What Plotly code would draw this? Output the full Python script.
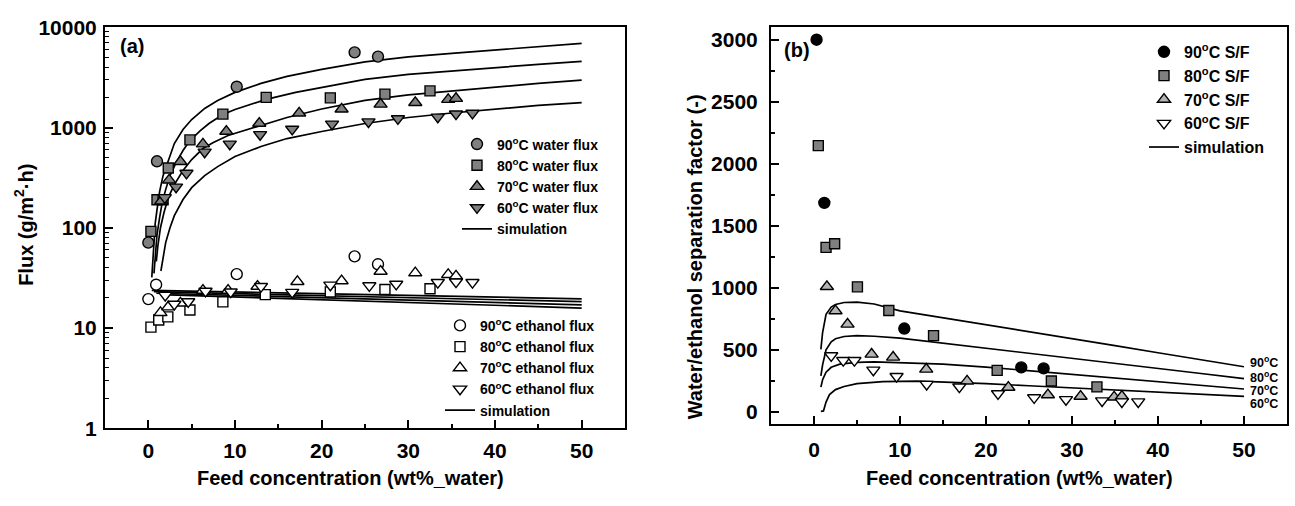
import plotly.graph_objects as go

# ---------------- data: panel (a) measured fluxes (g/m2.h) ----------------
w90_x = [0.0, 1.0, 10.2, 23.8, 26.5]
w90_y = [71, 460, 2550, 5620, 5100]
w80_x = [0.3, 1.0, 1.7, 2.3, 4.8, 8.6, 13.6, 21.0, 27.3, 32.5]
w80_y = [92, 190, 190, 395, 752, 1360, 2000, 1975, 2155, 2317]
w70_x = [1.5, 2.4, 3.7, 6.3, 9.0, 12.8, 17.4, 22.3, 26.8, 30.8, 34.6, 35.5]
w70_y = [185, 299, 457, 684, 916, 1099, 1390, 1527, 1706, 1770, 1901, 1948]
w60_x = [1.9, 3.2, 4.4, 6.5, 9.4, 12.9, 16.6, 21.2, 25.4, 28.8, 33.4, 35.5, 37.4]
w60_y = [200, 255, 350, 569, 684, 851, 964, 1084, 1140, 1227, 1273, 1369, 1390]

e90_x = [0.0, 0.9, 10.2, 23.8, 26.5]
e90_y = [19.4, 27.0, 34.4, 51.8, 43.2]
e80_x = [0.3, 1.2, 2.25, 4.8, 8.6, 13.5, 21.0, 27.3, 32.5]
e80_y = [10.2, 12.0, 12.9, 15.1, 18.2, 21.5, 22.9, 24.2, 24.6]
e70_x = [1.4, 2.3, 3.7, 6.3, 9.2, 12.6, 17.2, 22.3, 26.8, 30.8, 34.6, 35.5]
e70_y = [14.2, 16.2, 17.7, 23.7, 23.7, 26.0, 29.0, 29.5, 36.7, 35.4, 34.1, 32.9]
e60_x = [1.95, 3.0, 4.6, 6.6, 9.5, 13.0, 16.6, 21.0, 25.5, 28.6, 33.4, 35.5, 37.4]
e60_y = [21.2, 17.3, 18.3, 23.3, 22.9, 26.0, 22.7, 26.8, 26.4, 27.4, 28.5, 28.8, 28.5]

# simulated water flux curves
sw90_x = [0.4, 0.6, 0.8, 1.0, 1.3, 1.7, 2.2, 3, 4, 5, 6.5, 8, 10, 13, 16, 20, 25, 30, 35, 40, 45, 50]
sw90_y = [32, 71, 112, 151, 229, 331, 447, 692, 955, 1202, 1549, 1862, 2239, 2754, 3236, 3802, 4519, 5070, 5495, 5957, 6457, 6918]
sw80_x = [0.65, 0.8, 1.0, 1.3, 1.6, 2.0, 2.5, 3.2, 4, 4.8, 6, 7, 8.6, 10, 13.6, 17, 20, 25, 30, 35, 40, 45, 50]
sw80_y = [35, 56, 85, 126, 178, 240, 331, 447, 589, 741, 933, 1096, 1349, 1514, 1905, 2239, 2512, 3020, 3388, 3673, 3981, 4266, 4571]
sw70_x = [0.92, 1.1, 1.4, 1.8, 2.3, 3, 4, 5, 6.3, 7.5, 9.2, 11, 13, 16, 20, 25, 30, 35, 40, 45, 50]
sw70_y = [46, 66, 100, 141, 200, 269, 372, 479, 617, 708, 832, 933, 1047, 1259, 1531, 1862, 2113, 2317, 2541, 2754, 2972]
sw60_x = [1.45, 1.7, 2.0, 2.5, 3, 4, 5, 6.5, 8, 10, 13, 16, 20, 25, 30, 35, 40, 45, 50]
sw60_y = [37, 52, 71, 100, 132, 191, 251, 331, 407, 513, 646, 776, 912, 1096, 1259, 1396, 1531, 1660, 1770]

# simulated ethanol flux curves
se90_x = [0.4, 25, 50]
se90_y = [23.7, 21.5, 19.5]
se80_x = [0.65, 25, 50]
se80_y = [23.0, 20.6, 18.3]
se70_x = [0.92, 25, 50]
se70_y = [22.2, 19.4, 17.0]
se60_x = [1.45, 25, 50]
se60_y = [21.5, 18.4, 15.8]

# ---------------- data: panel (b) separation factor ----------------
s90_x = [0.3, 1.2, 10.5, 24.1, 26.7]
s90_y = [3000, 1685, 672, 359, 351]
s80_x = [0.5, 1.4, 2.4, 5.05, 8.7, 13.9, 21.3, 27.6, 32.9]
s80_y = [2146, 1326, 1356, 1008, 818, 615, 335, 249, 202]
s70_x = [1.5, 2.5, 3.9, 6.7, 9.2, 13.05, 17.8, 22.6, 27.2, 31.0, 34.9, 35.8]
s70_y = [1010, 815, 707, 465, 441, 344, 249, 198, 138, 126, 120, 126]
s60_x = [2.0, 3.4, 4.7, 6.9, 9.6, 13.1, 16.9, 21.4, 25.6, 29.3, 33.5, 35.8, 37.7]
s60_y = [454, 415, 415, 338, 287, 223, 202, 148, 115, 100, 90, 82, 82]

ss90_x = [0.8, 1.0, 1.4, 2, 2.5, 3.5, 5, 7, 10, 15, 20, 25, 30, 35, 40, 45, 50]
ss90_y = [505, 640, 787, 845, 866, 882, 885, 870, 815, 760, 705, 645, 590, 535, 477, 420, 364]
ss80_x = [0.8, 1.0, 1.4, 2, 2.5, 3.5, 5, 7, 10, 15, 20, 25, 30, 35, 40, 45, 50]
ss80_y = [290, 380, 500, 565, 590, 608, 615, 610, 595, 555, 512, 472, 432, 391, 350, 310, 269]
ss70_x = [0.8, 1.0, 1.4, 2, 3, 5, 7, 10, 15, 20, 25, 30, 35, 40, 45, 50]
ss70_y = [200, 260, 320, 360, 385, 400, 403, 398, 385, 362, 332, 302, 272, 243, 214, 185]
ss60_x = [0.8, 1.1, 1.4, 1.8, 2.5, 3.5, 5, 8, 12, 16, 20, 25, 30, 35, 40, 45, 50]
ss60_y = [5, 8, 80, 140, 180, 205, 228, 245, 249, 240, 228, 211, 193, 176, 159, 142, 125]

temp_labels = ["90", "80", "70", "60"]

FONT = "Liberation Sans"
W, H = 1295, 506

fig = go.Figure()


def curve(x, y, xa, ya, legend, show):
    fig.add_trace(go.Scatter(
        x=x, y=y, mode="lines", name="simulation", xaxis=xa, yaxis=ya,
        legend=legend, legendgroup=legend + "sim", showlegend=show, legendrank=10,
        line=dict(color="black", width=1.7), hoverinfo="skip"))


def points(x, y, name, symbol, fill, size, xa, ya, legend, rank):
    fig.add_trace(go.Scatter(
        x=x, y=y, mode="markers", name=name, xaxis=xa, yaxis=ya,
        legend=legend, legendgroup=legend + name, legendrank=rank,
        marker=dict(symbol=symbol, size=size, color=fill,
                    line=dict(color="black", width=1.4))))


# panel (a): simulation curves
for i, (cx, cy) in enumerate([(sw90_x, sw90_y), (sw80_x, sw80_y), (sw70_x, sw70_y), (sw60_x, sw60_y)]):
    curve(cx, cy, "x", "y", "legend", i == 0)
for i, (cx, cy) in enumerate([(se90_x, se90_y), (se80_x, se80_y), (se70_x, se70_y), (se60_x, se60_y)]):
    curve(cx, cy, "x", "y", "legend2", i == 0)

GRAY = "#808080"
sup = "<sup>o</sup>C"
points(w90_x, w90_y, "90" + sup + " water flux", "circle", GRAY, 11, "x", "y", "legend", 1)
points(w80_x, w80_y, "80" + sup + " water flux", "square", GRAY, 10, "x", "y", "legend", 2)
points(w70_x, w70_y, "70" + sup + " water flux", "triangle-up", GRAY, 11.5, "x", "y", "legend", 3)
points(w60_x, w60_y, "60" + sup + " water flux", "triangle-down", GRAY, 11.5, "x", "y", "legend", 4)

points(e90_x, e90_y, "90" + sup + " ethanol flux", "circle", "white", 11, "x", "y", "legend2", 1)
points(e80_x, e80_y, "80" + sup + " ethanol flux", "square", "white", 10, "x", "y", "legend2", 2)
points(e70_x, e70_y, "70" + sup + " ethanol flux", "triangle-up", "white", 11.5, "x", "y", "legend2", 3)
points(e60_x, e60_y, "60" + sup + " ethanol flux", "triangle-down", "white", 11.5, "x", "y", "legend2", 4)

# panel (b)
for i, (cx, cy) in enumerate([(ss90_x, ss90_y), (ss80_x, ss80_y), (ss70_x, ss70_y), (ss60_x, ss60_y)]):
    curve(cx, cy, "x2", "y2", "legend3", i == 0)
points(s90_x, s90_y, "90" + sup + " S/F", "circle", "black", 11, "x2", "y2", "legend3", 1)
points(s80_x, s80_y, "80" + sup + " S/F", "square", GRAY, 10, "x2", "y2", "legend3", 2)
points(s70_x, s70_y, "70" + sup + " S/F", "triangle-up", "#b4b4b4", 11.5, "x2", "y2", "legend3", 3)
points(s60_x, s60_y, "60" + sup + " S/F", "triangle-down", "white", 11.5, "x2", "y2", "legend3", 4)

tickfont = dict(family=FONT, size=21, color="black", weight="bold")
axis_common = dict(showline=True, linecolor="black", linewidth=2, mirror=True,
                   showgrid=False, zeroline=False, ticks="inside", ticklen=8,
                   tickwidth=1.6, tickcolor="black", tickfont=tickfont)

xa_dom = [105 / W, 625 / W]
xb_dom = [771 / W, 1287 / W]
ya_dom = [1 - 436 / H, 1 - 16 / H]
yb_dom = [1 - 432 / H, 1 - 16 / H]

minor_x = dict(tickvals=[5, 15, 25, 35, 45], ticks="inside", ticklen=4,
               tickwidth=1.6, tickcolor="black", showgrid=False)
log_minor = [m * 10 ** e for e in range(4) for m in range(2, 10)]

legend_font_a = dict(family=FONT, size=14, color="black", weight="bold")
fig.update_layout(
    width=W, height=H, margin=dict(l=0, r=0, t=0, b=0),
    paper_bgcolor="white", plot_bgcolor="white",
    font=dict(family=FONT, color="black"),
    xaxis=dict(axis_common, domain=xa_dom, anchor="y", range=[-5, 55],
               tickvals=[0, 10, 20, 30, 40, 50], minor=minor_x, ticklabelstandoff=3),
    yaxis=dict(axis_common, domain=ya_dom, anchor="x", type="log", range=[0, 4],
               tickvals=[1, 10, 100, 1000, 10000],
               ticktext=["1", "10", "100", "1000", "10000"],
               minor=dict(tickvals=log_minor, ticks="inside", ticklen=4, tickwidth=1.4,
                          tickcolor="black", showgrid=False),
               ticklabelstandoff=2),
    xaxis2=dict(axis_common, domain=xb_dom, anchor="y2", range=[-5, 55],
                tickvals=[0, 10, 20, 30, 40, 50], minor=minor_x, ticklabelstandoff=5),
    yaxis2=dict(axis_common, domain=yb_dom, anchor="x2", range=[-100, 3100],
                tickvals=[0, 500, 1000, 1500, 2000, 2500, 3000],
                minor=dict(tickvals=[250 + 500 * k for k in range(6)], ticks="inside",
                           ticklen=4, tickwidth=1.6, tickcolor="black", showgrid=False),
                ticklabelstandoff=7),
    showlegend=True,
    legend=dict(x=457 / W, xanchor="left", y=1 - 122 / H, yanchor="top",
                bgcolor="rgba(0,0,0,0)", borderwidth=0, tracegroupgap=0,
                font=legend_font_a),
    legend2=dict(x=440 / W, xanchor="left", y=1 - 312 / H, yanchor="top",
                 bgcolor="rgba(0,0,0,0)", borderwidth=0, tracegroupgap=0,
                 font=legend_font_a),
    legend3=dict(x=1144 / W, xanchor="left", y=1 - 24 / H, yanchor="top",
                 bgcolor="rgba(0,0,0,0)", borderwidth=0, tracegroupgap=0,
                 font=dict(family=FONT, size=16, color="black", weight="bold")),
)

title_font = dict(family=FONT, size=20, color="black", weight="bold")
ann = [
    dict(text="(a)", x=132 / W, y=1 - 36 / H),
    dict(text="(b)", x=797 / W, y=1 - 40 / H),
    dict(text="Feed concentration (wt%_water)", x=350 / W, y=1 - 488 / H),
    dict(text="Feed concentration (wt%_water)", x=1019 / W, y=1 - 488 / H),
    dict(text="Flux (g/m<sup>2</sup>·h)", x=24 / W, y=1 - 223 / H, textangle=-90),
    dict(text="Water/ethanol separation factor (-)", x=695 / W, y=1 - 257 / H, textangle=-90),
]
for a in ann:
    fig.add_annotation(xref="paper", yref="paper", showarrow=False,
                       xanchor="center", yanchor="middle", font=title_font, **a)

# temperature tags at the right end of the separation-factor curves
tag_y = [402, 279, 177, 69]
for t, ty in zip(temp_labels, tag_y):
    fig.add_annotation(xref="x2", yref="y2", x=50, y=ty, xshift=4, showarrow=False,
                       xanchor="left", yanchor="middle", text=t + "<sup>o</sup>C",
                       font=dict(family=FONT, size=12.5, color="black", weight="bold"))

fig.write_html("out.html")
